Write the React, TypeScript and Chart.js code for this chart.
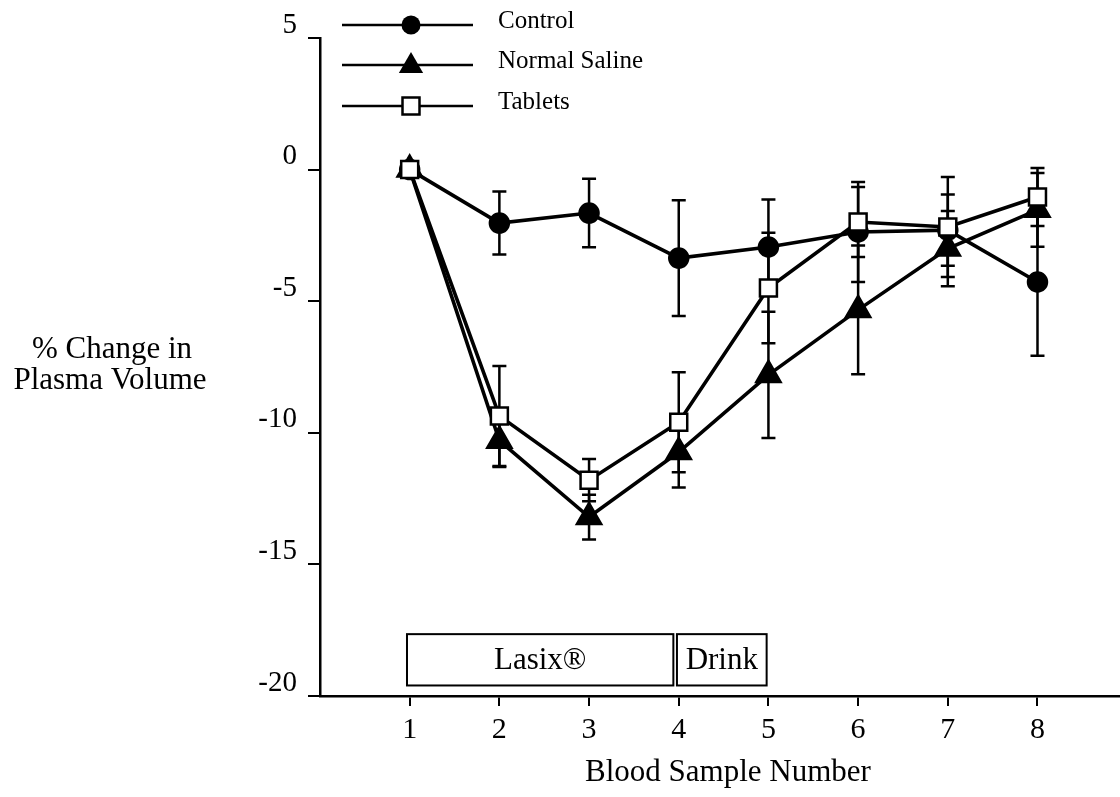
import React, { useEffect, useRef } from 'react';
import { Chart, registerables } from 'chart.js';

Chart.register(...registerables);

// Blood sample index (x) and mean % change in plasma volume with ± error
const samples = [1, 2, 3, 4, 5, 6, 7, 8];
const controlMean = [0, -2.03, -1.65, -3.36, -2.94, -2.37, -2.3, -4.27];
const controlErr = [0, 1.2, 1.3, 2.2, 1.8, 1.9, 1.35, 2.8];
const salineMean = [0, -10.3, -13.2, -10.73, -7.8, -5.33, -3.0, -1.53];
const salineErr = [0, 1.0, 0.85, 1.35, 2.4, 2.45, 1.43, 1.4];
const tabletsMean = [0, -9.36, -11.8, -9.6, -4.5, -1.99, -2.18, -1.04];
const tabletsErr = [0, 1.9, 0.8, 1.9, 2.1, 1.33, 1.9, 1.1];
const yTicks = [-20, -15, -10, -5, 0, 5];

// Protocol phases along the sample axis
const phaseLabels = ['Lasix®', 'Drink'];
const phaseStart = [0.97, 3.98];
const phaseEnd = [3.94, 4.98];
const phaseTop = -17.65;
const phaseBottom = -19.6;

const SERIF = '"Liberation Serif", "Times New Roman", serif';

const toPoints = (means: number[]) => samples.map((s, i) => ({ x: s, y: means[i] }));

function drawMarker(ctx: CanvasRenderingContext2D, kind: string, x: number, y: number) {
  ctx.save();
  ctx.lineWidth = 2.5;
  ctx.strokeStyle = '#000';
  ctx.fillStyle = '#000';
  ctx.beginPath();
  if (kind === 'circle') {
    ctx.arc(x, y, 9.5, 0, Math.PI * 2);
    ctx.fill();
  } else if (kind === 'triangle') {
    const r = 14;
    ctx.moveTo(x, y - r);
    ctx.lineTo(x + r * Math.cos(Math.PI / 6), y + r / 2);
    ctx.lineTo(x - r * Math.cos(Math.PI / 6), y + r / 2);
    ctx.closePath();
    ctx.fill();
  } else {
    const h = 8.5;
    ctx.rect(x - h, y - h, 2 * h, 2 * h);
    ctx.fillStyle = '#fff';
    ctx.fill();
    ctx.stroke();
  }
  ctx.restore();
}

const errorBars = {
  id: 'errorBars',
  beforeDatasetsDraw(chart: any) {
    const { ctx, scales } = chart;
    const xs = scales.x;
    const ys = scales.y;
    ctx.save();
    ctx.strokeStyle = '#000';
    ctx.lineWidth = 2.5;
    chart.data.datasets.forEach((ds: any) => {
      const errs: number[] = ds.errors;
      ds.data.forEach((p: any, i: number) => {
        const e = errs[i];
        if (!e) return;
        const px = xs.getPixelForValue(p.x);
        const top = ys.getPixelForValue(p.y + e);
        const bot = ys.getPixelForValue(p.y - e);
        ctx.beginPath();
        ctx.moveTo(px, top);
        ctx.lineTo(px, bot);
        ctx.moveTo(px - 7, top);
        ctx.lineTo(px + 7, top);
        ctx.moveTo(px - 7, bot);
        ctx.lineTo(px + 7, bot);
        ctx.stroke();
      });
    });
    ctx.restore();
  },
};

const annotations = {
  id: 'annotations',
  afterDraw(chart: any) {
    const { ctx, scales } = chart;
    const xs = scales.x;
    const ys = scales.y;
    ctx.save();
    ctx.fillStyle = '#000';
    ctx.strokeStyle = '#000';

    // phase boxes
    ctx.lineWidth = 2;
    ctx.font = `31px ${SERIF}`;
    ctx.textAlign = 'center';
    ctx.textBaseline = 'middle';
    phaseLabels.forEach((label, i) => {
      const x0 = xs.getPixelForValue(phaseStart[i]);
      const x1 = xs.getPixelForValue(phaseEnd[i]);
      const y0 = ys.getPixelForValue(phaseTop);
      const y1 = ys.getPixelForValue(phaseBottom);
      ctx.strokeRect(x0, y0, x1 - x0, y1 - y0);
      ctx.fillText(label, (x0 + x1) / 2, (y0 + y1) / 2 + 1);
    });

    // axis titles
    ctx.font = `31px ${SERIF}`;
    ctx.fillText('% Change in', 112, 350);
    ctx.fillText('Plasma Volume', 110, 381);
    ctx.fillText('Blood Sample Number', 728, 773);

    // legend
    const rows = [
      { label: 'Control', kind: 'circle', y: 25 },
      { label: 'Normal Saline', kind: 'triangle', y: 65 },
      { label: 'Tablets', kind: 'rect', y: 106 },
    ];
    ctx.font = `25px ${SERIF}`;
    ctx.textAlign = 'left';
    rows.forEach((r) => {
      ctx.lineWidth = 2.4;
      ctx.beginPath();
      ctx.moveTo(342, r.y);
      ctx.lineTo(473, r.y);
      ctx.stroke();
      drawMarker(ctx, r.kind, 411, r.kind === 'triangle' ? r.y + 1 : r.y);
      ctx.fillText(r.label, 498, r.y - 4);
    });
    ctx.restore();
  },
};

export default function App() {
  const canvasRef = useRef<HTMLCanvasElement | null>(null);

  useEffect(() => {
    if (!canvasRef.current) return;
    const common = {
      borderColor: '#000',
      borderWidth: 3.6,
      pointBorderColor: '#000',
      pointBorderWidth: 2.5,
      pointHoverRadius: 0,
      tension: 0,
      clip: false,
    };
    const chart = new Chart(canvasRef.current, {
      type: 'line',
      data: {
        datasets: [
          {
            ...common,
            label: 'Control',
            data: toPoints(controlMean),
            errors: controlErr,
            pointStyle: 'circle',
            pointRadius: 9.5,
            pointBackgroundColor: '#000',
            order: 2,
          } as any,
          {
            ...common,
            label: 'Normal Saline',
            data: toPoints(salineMean),
            errors: salineErr,
            pointStyle: 'triangle',
            pointRadius: 14,
            pointBackgroundColor: '#000',
            order: 1,
          } as any,
          {
            ...common,
            label: 'Tablets',
            data: toPoints(tabletsMean),
            errors: tabletsErr,
            pointStyle: 'rect',
            pointRadius: 12,
            pointBackgroundColor: '#fff',
            order: 0,
          } as any,
        ],
      },
      options: {
        responsive: false,
        animation: false,
        devicePixelRatio: 1,
        events: [],
        layout: { autoPadding: false, padding: { top: 38, left: 0, right: 0, bottom: 0 } },
        plugins: {
          legend: { display: false },
          tooltip: { enabled: false },
          title: { display: false },
        },
        scales: {
          x: {
            type: 'linear',
            min: 0,
            max: 8.92,
            afterBuildTicks: (scale: any) => {
              scale.ticks = samples.map((v) => ({ value: v }));
            },
            afterFit: (scale: any) => {
              scale.height = 101;
              scale.paddingLeft = 0;
              scale.paddingRight = 0;
            },
            grid: {
              drawOnChartArea: false,
              drawTicks: true,
              tickLength: 10,
              color: '#000',
              lineWidth: 2,
            },
            border: { display: true, color: '#000', width: 2.5 },
            ticks: {
              color: '#000',
              font: { family: SERIF, size: 30 },
              padding: 6,
              maxRotation: 0,
              autoSkip: false,
            },
          },
          y: {
            type: 'linear',
            min: -20,
            max: 5,
            afterBuildTicks: (scale: any) => {
              scale.ticks = yTicks.map((v) => ({ value: v }));
            },
            afterFit: (scale: any) => {
              scale.width = 320;
              scale.paddingTop = 0;
              scale.paddingBottom = 0;
            },
            grid: {
              drawOnChartArea: false,
              drawTicks: true,
              tickLength: 12,
              color: '#000',
              lineWidth: 2,
            },
            border: { display: true, color: '#000', width: 2.5 },
            ticks: {
              color: '#000',
              font: { family: SERIF, size: 29 },
              padding: 11,
              labelOffset: -13,
              autoSkip: false,
            },
          },
        },
      } as any,
      plugins: [errorBars, annotations],
    });
    return () => chart.destroy();
  }, []);

  return (
    <div style={{ position: 'absolute', left: 0, top: 0, width: 1120, height: 797, background: '#fff' }}>
      <canvas ref={canvasRef} width={1120} height={797} />
    </div>
  );
}
